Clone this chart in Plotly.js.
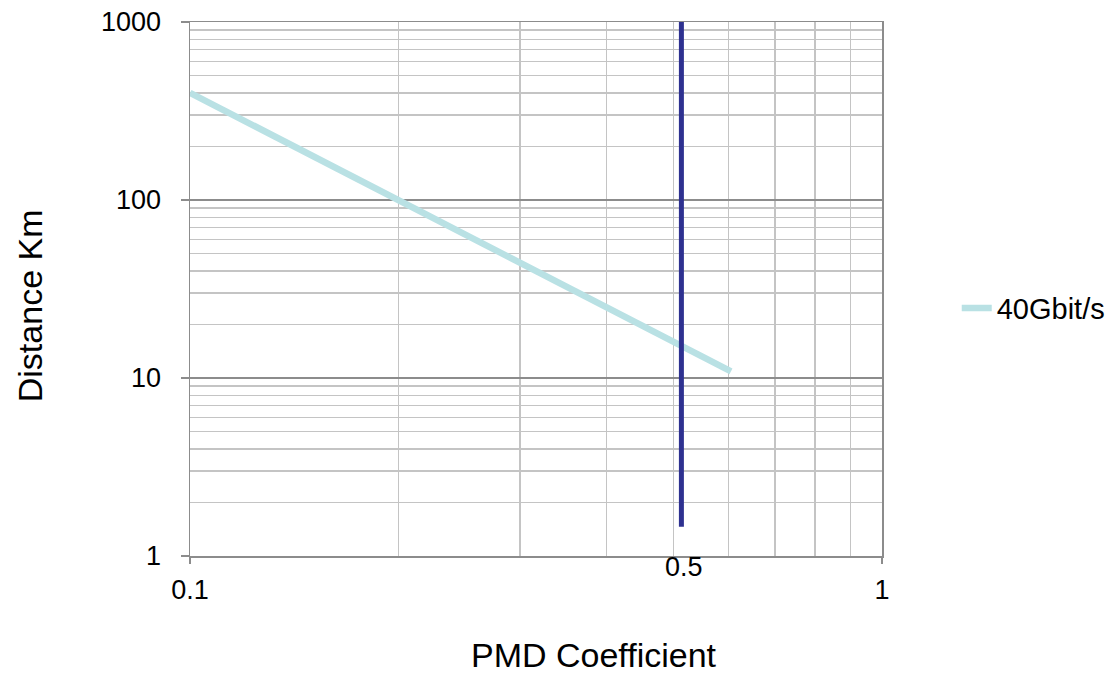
<!DOCTYPE html>
<html>
<head>
<meta charset="utf-8">
<script src="https://cdn.plot.ly/plotly-3.0.1.min.js"></script>
<style>html,body{margin:0;padding:0;background:#fff;}#chart{width:1111px;height:673px;}</style>
</head>
<body>
<div id="chart"></div>
<script>
// Data
const pmd = [0.1, 0.2, 0.3, 0.4, 0.5, 0.605];
const distance40G = [400, 100, 44.4, 25, 16, 10.9];
const seriesName = "40Gbit/s";
const limitX = [0.513, 0.513];
const limitY = [1.46, 1000];
const limitLabel = "0.5";
const xTitle = "PMD Coefficient";
const yTitle = "Distance Km";
const xTickVals = [0.1, 1];
const xTickText = ["0.1", "1"];
const yTickVals = [1, 10, 100, 1000];
const yTickText = ["1", "10", "100", "1000"];
const xMinorVals = [0.2, 0.3, 0.4, 0.5, 0.6, 0.7, 0.8, 0.9];
const yMinorVals = [2,3,4,5,6,7,8,9,20,30,40,50,60,70,80,90,200,300,400,500,600,700,800,900];

const font = "Liberation Sans, Arial, sans-serif";

const traces = [
  {
    x: pmd, y: distance40G, name: seriesName, type: "scatter", mode: "lines",
    line: {color: "#b9e1e4", width: 6.5},
    showlegend: true
  },
  {
    x: limitX, y: limitY, type: "scatter", mode: "lines",
    line: {color: "#2e3190", width: 5},
    showlegend: false, hoverinfo: "skip"
  }
];

const layout = {
  width: 1111, height: 673,
  margin: {l: 190, r: 229, t: 22, b: 117, autoexpand: false},
  paper_bgcolor: "#fff", plot_bgcolor: "#fff",
  font: {family: font, color: "#000", size: 27},
  showlegend: true,
  legend: {
    x: 1.108, xanchor: "left", y: 0.464, yanchor: "middle",
    font: {family: font, size: 29, color: "#000"},
    bgcolor: "rgba(0,0,0,0)", borderwidth: 0
  },
  xaxis: {
    type: "log", range: [-1, 0], automargin: false,
    tickmode: "array", tickvals: xTickVals, ticktext: xTickText,
    ticks: "outside", ticklen: 6, tickcolor: "#8c8c8c", tickwidth: 1.5,
    ticklabelstandoff: 3,
    showgrid: false,
    showline: true, linecolor: "#8c8c8c", linewidth: 1.5, mirror: true,
    minor: {tickvals: xMinorVals, showgrid: true, gridcolor: "#c4c4c4", gridwidth: 1.5, ticks: ""},
    zeroline: false,
    tickfont: {family: font, size: 27, color: "#000"}
  },
  yaxis: {
    type: "log", range: [0, 3], automargin: false,
    tickmode: "array", tickvals: yTickVals, ticktext: yTickText,
    ticks: "outside", ticklen: 8, tickcolor: "#8c8c8c", tickwidth: 1.5,
    ticklabelstandoff: 14,
    showgrid: true, gridcolor: "#8c8c8c", gridwidth: 1.5,
    showline: true, linecolor: "#8c8c8c", linewidth: 1.5, mirror: true,
    minor: {tickvals: yMinorVals, showgrid: true, gridcolor: "#c4c4c4", gridwidth: 1.5, ticks: ""},
    zeroline: false,
    tickfont: {family: font, size: 27, color: "#000"}
  },
  annotations: [
    {
      x: Math.log10(limitX[0]), xref: "x", y: -0.021, yref: "paper", xshift: 3,
      text: limitLabel, showarrow: false, xanchor: "center", yanchor: "middle",
      font: {family: font, size: 27, color: "#000"}
    },
    {
      x: 0.584, xref: "paper", y: -0.1854, yref: "paper",
      text: xTitle, showarrow: false, xanchor: "center", yanchor: "middle",
      font: {family: font, size: 34, color: "#000"}
    },
    {
      x: -0.231, xref: "paper", y: 0.468, yref: "paper",
      text: yTitle, showarrow: false, xanchor: "center", yanchor: "middle", textangle: -90,
      font: {family: font, size: 34, color: "#000"}
    }
  ]
};

Plotly.newPlot("chart", traces, layout, {displayModeBar: false, staticPlot: true});
</script>
</body>
</html>
